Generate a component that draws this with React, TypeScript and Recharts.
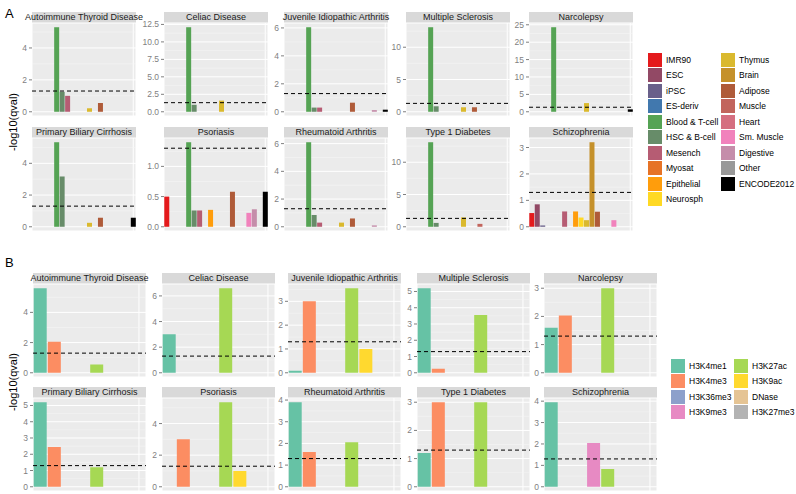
import React from "react";
import {
  BarChart,
  Bar,
  XAxis,
  YAxis,
  CartesianGrid,
  ReferenceLine,
  Cell,
} from "recharts";

const tissueGroups = [
  "IMR90", "ESC", "iPSC", "ES-deriv", "Blood & T-cell", "HSC & B-cell",
  "Mesench", "Myosat", "Epithelial", "Neurosph", "Thymus", "Brain",
  "Adipose", "Muscle", "Heart", "Sm. Muscle", "Digestive", "Other", "ENCODE2012",
];
const tissueColors = [
  "#E41A1C", "#924965", "#69608A", "#4178AE", "#55A354", "#678C69",
  "#B65C73", "#E67326", "#FF9D0C", "#FFD924", "#DAB92E", "#C5912B",
  "#AF5B39", "#C2655D", "#D56F80", "#F182BC", "#C58DAA", "#999999", "#000000",
];

const markGroups = [
  "H3K4me1", "H3K4me3", "H3K36me3", "H3K9me3",
  "H3K27ac", "H3K9ac", "DNase", "H3K27me3",
];
const markColors = [
  "#66C2A5", "#FC8D62", "#8DA0CB", "#E78AC3",
  "#A6D854", "#FFD92F", "#E5C494", "#B3B3B3",
];

const diseases = [
  "Autoimmune Thyroid Disease", "Celiac Disease", "Juvenile Idiopathic Arthritis",
  "Multiple Sclerosis", "Narcolepsy", "Primary Biliary Cirrhosis", "Psoriasis",
  "Rheumatoid Arthritis", "Type 1 Diabetes", "Schizophrenia",
];

// panel A: -log10(qval) by tissue group (order of tissueGroups)
const tissueAutoimmune = [0, 0, 0, 0, 5.3, 1.25, 1.0, 0, 0, 0, 0.22, 0, 0.55, 0, 0, 0, 0, 0, 0];
const tissueCeliac = [0, 0, 0, 0, 12.1, 1.0, 0, 0, 0, 0, 1.6, 0, 0, 0, 0, 0, 0, 0, 0];
const tissueJIA = [0, 0, 0, 0, 6.05, 0.3, 0.3, 0, 0, 0, 0, 0, 0.65, 0, 0, 0, 0.12, 0, 0.15];
const tissueMS = [0, 0, 0, 0, 13.1, 0.85, 0, 0, 0, 0, 0.7, 0, 0.7, 0, 0, 0, 0, 0, 0];
const tissueNarcolepsy = [0, 0, 0, 0, 24.3, 0, 0, 0, 0, 0, 2.5, 0, 0, 0, 0, 0, 0, 0, 0.7];
const tissuePBC = [0, 0, 0, 0, 5.33, 3.17, 0, 0, 0, 0, 0.25, 0, 0.57, 0, 0, 0, 0, 0, 0.57];
const tissuePsoriasis = [0.5, 0, 0, 0, 1.4, 0.27, 0.27, 0, 0.28, 0, 0, 0, 0.58, 0, 0, 0.23, 0.29, 0, 0.58];
const tissueRA = [0, 0, 0, 0, 6.1, 0.85, 0.3, 0, 0, 0, 0.3, 0, 0.6, 0, 0, 0, 0.1, 0, 0];
const tissueT1D = [0, 0, 0, 0, 13.1, 0.6, 0, 0, 0, 0, 1.45, 0, 0, 0.45, 0, 0, 0, 0, 0];
const tissueSchizo = [0.52, 0.85, 0.05, 0, 0, 0, 0.58, 0, 0.58, 0.35, 0.25, 3.2, 0.57, 0, 0, 0.25, 0, 0, 0];

const tissueValues = [
  tissueAutoimmune, tissueCeliac, tissueJIA, tissueMS, tissueNarcolepsy,
  tissuePBC, tissuePsoriasis, tissueRA, tissueT1D, tissueSchizo,
];
const tissueTicks = [
  [0, 2, 4], [0, 2.5, 5, 7.5, 10, 12.5], [0, 2, 4, 6], [0, 5, 10], [0, 5, 10, 15, 20, 25],
  [0, 2, 4], [0, 0.5, 1], [0, 2, 4, 6], [0, 5, 10], [0, 1, 2, 3],
];

// panel B: -log10(qval) by histone mark (order of markGroups)
const markAutoimmune = [5.6, 2.05, 0, 0, 0.55, 0, 0, 0];
const markCeliac = [3.0, 0, 0, 0, 6.6, 0, 0, 0];
const markJIA = [0.08, 3.0, 0, 0, 3.55, 1.0, 0, 0];
const markMS = [5.2, 0.25, 0, 0, 3.55, 0, 0, 0];
const markNarcolepsy = [1.6, 2.03, 0, 0, 3.0, 0, 0, 0];
const markPBC = [5.2, 2.45, 0, 0, 1.2, 0, 0, 0];
const markPsoriasis = [0, 3.0, 0, 0, 5.35, 1.0, 0, 0];
const markRA = [3.9, 1.6, 0, 0, 2.05, 0, 0, 0];
const markT1D = [1.2, 3.0, 0, 0, 3.0, 0, 0, 0];
const markSchizo = [3.95, 0, 0, 2.05, 0.83, 0, 0, 0];

const markValues = [
  markAutoimmune, markCeliac, markJIA, markMS, markNarcolepsy,
  markPBC, markPsoriasis, markRA, markT1D, markSchizo,
];
const markTicks = [
  [0, 2, 4], [0, 2, 4, 6], [0, 1, 2, 3], [0, 1, 2, 3, 4, 5], [0, 1, 2, 3],
  [0, 1, 2, 3, 4, 5], [0, 2, 4], [0, 1, 2, 3, 4], [0, 1, 2, 3], [0, 1, 2, 3, 4],
];

const QVAL_CUTOFF = -Math.log10(0.05);
const FONT = '"Liberation Sans", Arial, Helvetica, sans-serif';
const AXIS_W = 28;
const STRIP_H = 11;
const PLOT_H = 93;

function Facet({ x, y, width, title, names, colors, values, ticks }) {
  const data = names.map((name, i) => ({ name, v: values[i] }));
  const top = Math.max(Math.max(...values), QVAL_CUTOFF);
  const domain = [-0.05 * top, 1.05 * top];
  const step = ticks[1] - ticks[0];
  const minor = ticks.map((t) => t + step / 2).filter((t) => t <= domain[1]);
  const decimals = ticks.some((t) => !Number.isInteger(t)) ? 1 : 0;

  return (
    <div style={{ position: "absolute", left: x - AXIS_W, top: y }}>
      <div
        style={{
          marginLeft: AXIS_W,
          width,
          height: STRIP_H,
          background: "#D9D9D9",
          color: "#1A1A1A",
          fontSize: 9,
          lineHeight: `${STRIP_H}px`,
          whiteSpace: "nowrap",
          display: "flex",
          justifyContent: "center",
        }}
      >
        <span>{title}</span>
      </div>
      <BarChart
        width={AXIS_W + width}
        height={PLOT_H}
        data={data}
        margin={{ top: 0, right: 0, bottom: 0, left: 0 }}
        barCategoryGap="5%"
      >
        <CartesianGrid fill="#EBEBEB" fillOpacity={1} stroke="#FFFFFF" strokeWidth={1} />
        <CartesianGrid horizontalValues={minor} vertical={false} stroke="#F7F7F7" strokeWidth={0.5} />
        <XAxis dataKey="name" type="category" hide />
        <YAxis
          type="number"
          domain={domain}
          ticks={ticks}
          allowDataOverflow
          interval={0}
          width={AXIS_W}
          axisLine={false}
          tickSize={3}
          tickMargin={2}
          tickLine={{ stroke: "#7F7F7F" }}
          tick={{ fill: "#7F7F7F", fontSize: 8.5, fontFamily: FONT }}
          tickFormatter={(v) => Number(v).toFixed(decimals)}
        />
        <Bar dataKey="v" isAnimationActive={false}>
          {data.map((d, i) => (
            <Cell key={d.name} fill={colors[i]} />
          ))}
        </Bar>
        <ReferenceLine y={QVAL_CUTOFF} stroke="#000000" strokeDasharray="4 3" strokeWidth={1} />
      </BarChart>
    </div>
  );
}

function KeyLegend({ cols, top, names, colors, perColumn }) {
  return (
    <>
      {names.map((name, i) => {
        const col = Math.floor(i / perColumn);
        const row = i % perColumn;
        return (
          <div
            key={name}
            style={{
              position: "absolute",
              left: cols[col],
              top: top + row * 15.5,
              height: 15,
              display: "flex",
              alignItems: "center",
              fontSize: 8.5,
              color: "#000",
              whiteSpace: "nowrap",
            }}
          >
            <div style={{ width: 14, height: 14, background: colors[i], marginRight: 3, border: "0.5px solid #fff" }} />
            {name}
          </div>
        );
      })}
    </>
  );
}

const tissueLefts = [32, 164, 284, 406, 529];
const tissueTops = [12, 127];
const markLefts = [33, 162, 288, 417, 544];
const markTops = [273, 387];

export default function App() {
  return (
    <div
      style={{
        position: "absolute",
        left: 0,
        top: 0,
        width: 796,
        height: 494,
        background: "#FFFFFF",
        fontFamily: FONT,
        overflow: "hidden",
      }}
    >
      <style>{".recharts-wrapper, .recharts-surface { overflow: visible !important; }"}</style>
      {diseases.map((d, i) => (
        <Facet
          key={"A" + d}
          x={tissueLefts[i % 5]}
          y={tissueTops[Math.floor(i / 5)]}
          width={104}
          title={d}
          names={tissueGroups}
          colors={tissueColors}
          values={tissueValues[i]}
          ticks={tissueTicks[i]}
        />
      ))}
      {diseases.map((d, i) => (
        <Facet
          key={"B" + d}
          x={markLefts[i % 5]}
          y={markTops[Math.floor(i / 5)]}
          width={113}
          title={d}
          names={markGroups}
          colors={markColors}
          values={markValues[i]}
          ticks={markTicks[i]}
        />
      ))}
      <svg
        width={796}
        height={494}
        style={{ position: "absolute", left: 0, top: 0, pointerEvents: "none" }}
      >
        <text x={5} y={18} fontSize={13} fontFamily={FONT} fill="#000">A</text>
        <text x={5} y={267} fontSize={13} fontFamily={FONT} fill="#000">B</text>
        <text
          x={0}
          y={0}
          transform="translate(17,122) rotate(-90)"
          textAnchor="middle"
          fontSize={11}
          fontFamily={FONT}
          fill="#000"
        >
          -log10(qval)
        </text>
        <text
          x={0}
          y={0}
          transform="translate(17,382) rotate(-90)"
          textAnchor="middle"
          fontSize={11}
          fontFamily={FONT}
          fill="#000"
        >
          -log10(qval)
        </text>
      </svg>
      <KeyLegend cols={[647, 720]} top={52} names={tissueGroups} colors={tissueColors} perColumn={10} />
      <KeyLegend cols={[670, 733]} top={358} names={markGroups} colors={markColors} perColumn={4} />
    </div>
  );
}
